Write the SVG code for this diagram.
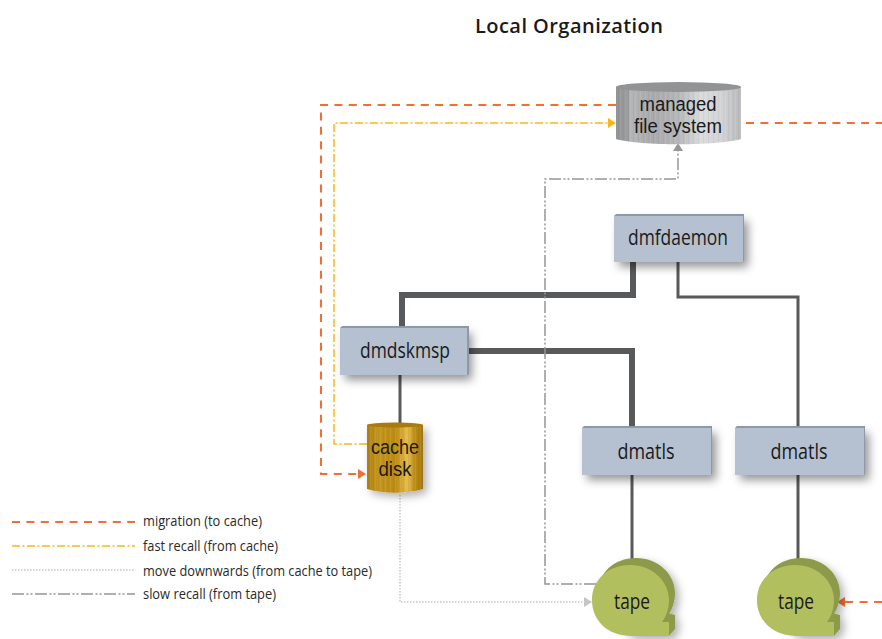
<svg xmlns="http://www.w3.org/2000/svg" width="882" height="639" viewBox="0 0 882 639">
<style>
text{font-family:"Open Sans","Noto Sans","Liberation Sans",sans-serif;fill:#1a1a1a}
.t{font-size:21.5px;text-anchor:middle}
.t2{font-family:"Liberation Sans",Arial,sans-serif;font-size:19.5px;text-anchor:middle}
.l{font-size:14px;fill:#2a2a2a}
.box{fill:#b5c1d1}
.bev{fill:#8d99a6}
.bar{fill:none;stroke:#58595b}
.m{fill:none;stroke:#ee7037;stroke-width:2;stroke-dasharray:8 6.4}
.f{fill:none;stroke:#fbb616;stroke-width:1.5;stroke-dasharray:8 2.5 2 2.5}
.d{fill:none;stroke:#c4c6c8;stroke-width:1.5;stroke-dasharray:1.5 1.5}
.s{fill:none;stroke:#939598;stroke-width:1.5;stroke-dasharray:12 2.5 2 2 2 2.5}
.tf{fill:#b2bf5f}
.tb{fill:#8d9a49}
</style>
<defs>
<filter id="sh" x="-20%" y="-20%" width="150%" height="150%"><feDropShadow dx="5" dy="5" stdDeviation="5" flood-color="#000" flood-opacity=".42"/></filter>
<filter id="sh2" x="-20%" y="-20%" width="150%" height="150%"><feDropShadow dx="4" dy="4" stdDeviation="4" flood-color="#000" flood-opacity=".3"/></filter>
<linearGradient id="gm"><stop offset="0" stop-color="#929395"/><stop offset=".1" stop-color="#9c9d9f"/><stop offset=".11" stop-color="#b4b5b7"/><stop offset=".3" stop-color="#a9aaac"/><stop offset=".5" stop-color="#b6b7b9"/><stop offset=".68" stop-color="#dadbdc"/><stop offset=".85" stop-color="#d2d3d5"/><stop offset="1" stop-color="#b8b9bb"/></linearGradient>
<linearGradient id="gc"><stop offset="0" stop-color="#ad7f12"/><stop offset=".2" stop-color="#c4961f"/><stop offset=".5" stop-color="#bb8b12"/><stop offset=".72" stop-color="#e6bb4c"/><stop offset=".85" stop-color="#bd8e16"/><stop offset="1" stop-color="#a17509"/></linearGradient>
<pattern id="st" width="5" height="10" patternUnits="userSpaceOnUse"><rect width="1" height="10" fill="#fff" opacity=".08"/><rect x="3" width="1" height="10" fill="#000" opacity=".035"/></pattern>
<path id="tf" d="M38 0C60 0 77 16 77 35C77 44 74 52 70 57L77 57V71H40C16 71 0 56 0 35C0 15 16 0 38 0Z"/>
<marker id="am" markerWidth="8" markerHeight="10" refX="0" refY="5" orient="auto" markerUnits="userSpaceOnUse"><path d="M0 0L8 5L0 10Z" fill="#ee7037"/></marker>
<marker id="af" markerWidth="8" markerHeight="10" refX="0" refY="5" orient="auto" markerUnits="userSpaceOnUse"><path d="M0 0L8 5L0 10Z" fill="#fbb616"/></marker>
<marker id="ad" markerWidth="8" markerHeight="10" refX="0" refY="5" orient="auto" markerUnits="userSpaceOnUse"><path d="M0 0L8 5L0 10Z" fill="#c4c6c8"/></marker>
<marker id="as" markerWidth="8" markerHeight="10" refX="0" refY="5" orient="auto" markerUnits="userSpaceOnUse"><path d="M0 0L8 5L0 10Z" fill="#939598"/></marker>
</defs>
<text x="569" y="33" text-anchor="middle" textLength="188" lengthAdjust="spacing" style="font-family:'Open Sans',sans-serif;font-size:20px;font-weight:600">Local Organization</text>

<g id="connectors">
<path class="bar" stroke-width="6" d="M633 262V295H402V328"/>
<path class="bar" stroke-width="6" d="M468 351H632V428"/>
<path class="bar" stroke-width="3" d="M678 262V297H798V428"/>
<path class="bar" stroke-width="3" d="M400 375V423"/>
<path class="bar" stroke-width="3" d="M632 475V562"/>
<path class="bar" stroke-width="3" d="M798 475V562"/>
<path class="m" d="M616 105H321V474H358" marker-end="url(#am)"/>
<path class="f" d="M367 444H334V123H608" marker-end="url(#af)"/>
<path class="m" d="M746 123H882"/>
<path class="m" d="M882 602H845" marker-end="url(#am)"/>
<path class="s" d="M596 584H545V179H678V151" marker-end="url(#as)"/>
<path class="d" d="M400 495V602H584" marker-end="url(#ad)"/>
</g>

<g id="managed-file-system">
<path d="M616 87V139C640 146 717 146 741 139V87Z" fill="url(#gm)"/>
<path d="M616 87V139C640 146 717 146 741 139V87Z" fill="url(#st)"/>
<ellipse cx="678.500" cy="87" rx="62.500" ry="5" fill="#929395"/>
<text class="t2"><tspan x="678" y="111" textLength="77" lengthAdjust="spacingAndGlyphs">managed</tspan></text>
<text class="t2"><tspan x="678" y="133" textLength="88" lengthAdjust="spacingAndGlyphs">file system</tspan></text>
</g>

<g id="dmfdaemon">
<path class="box" filter="url(#sh)" d="M614 216H743V262H614Z"/>
<path class="bev" d="M614 216L616 214H744V261L743 262V216Z"/>
<text class="t" x="678" y="245" textLength="100" lengthAdjust="spacingAndGlyphs">dmfdaemon</text>
</g>

<g id="dmdskmsp">
<path class="box" filter="url(#sh)" d="M340 328H467V375H340Z"/>
<path class="bev" d="M340 328L342 326H469V374L467 375V328Z"/>
<text class="t" x="405" y="358" textLength="90" lengthAdjust="spacingAndGlyphs">dmdskmsp</text>
</g>

<g id="cache-disk">
<path filter="url(#sh2)" d="M367 425V489C385 494 405 494 423 489V425Z" fill="url(#gc)"/>
<path d="M367 425V489C385 494 405 494 423 489V425Z" fill="url(#st)"/>
<ellipse cx="395" cy="425" rx="28" ry="2.500" fill="#a87a10"/>
<text class="t2"><tspan x="395" y="454" textLength="48" lengthAdjust="spacingAndGlyphs">cache</tspan></text>
<text class="t2"><tspan x="395" y="476" textLength="33" lengthAdjust="spacingAndGlyphs">disk</tspan></text>
</g>

<g id="dmatls-1">
<path class="box" filter="url(#sh)" d="M582 428H711V475H582Z"/>
<path class="bev" d="M582 428L584 426H712V474L711 475V428Z"/>
<text class="t" x="646" y="459" textLength="57" lengthAdjust="spacingAndGlyphs">dmatls</text>
</g>

<g id="dmatls-2">
<path class="box" filter="url(#sh)" d="M735 428H864V475H735Z"/>
<path class="bev" d="M735 428L737 426H865V474L864 475V428Z"/>
<text class="t" x="799" y="459" textLength="57" lengthAdjust="spacingAndGlyphs">dmatls</text>
</g>

<g id="tape-1" transform="translate(592 565)">
<g class="tb" filter="url(#sh2)"><use href="#tf" transform="translate(6 -7)"/><path d="M0 35L6 28L83 50V64L77 71H40Z"/></g>
<use href="#tf" class="tf"/>
<text class="t" x="40" y="44" textLength="36" lengthAdjust="spacingAndGlyphs">tape</text>
</g>

<g id="tape-2" transform="translate(757 565)">
<g class="tb" filter="url(#sh2)"><use href="#tf" transform="translate(6 -7)"/><path d="M0 35L6 28L83 50V64L77 71H40Z"/></g>
<use href="#tf" class="tf"/>
<text class="t" x="39" y="44" textLength="36" lengthAdjust="spacingAndGlyphs">tape</text>
</g>

<g id="legend">
<path class="m" d="M12 522H135"/>
<path class="f" d="M12 546H135"/>
<path class="d" d="M12 570H135"/>
<path class="s" d="M12 594H135"/>
<text class="l" x="143" y="526" textLength="119" lengthAdjust="spacingAndGlyphs">migration (to cache)</text>
<text class="l" x="143" y="551" textLength="135" lengthAdjust="spacingAndGlyphs">fast recall (from cache)</text>
<text class="l" x="143" y="576" textLength="229" lengthAdjust="spacingAndGlyphs">move downwards (from cache to tape)</text>
<text class="l" x="143" y="599" textLength="133" lengthAdjust="spacingAndGlyphs">slow recall (from tape)</text>
</g>
</svg>
